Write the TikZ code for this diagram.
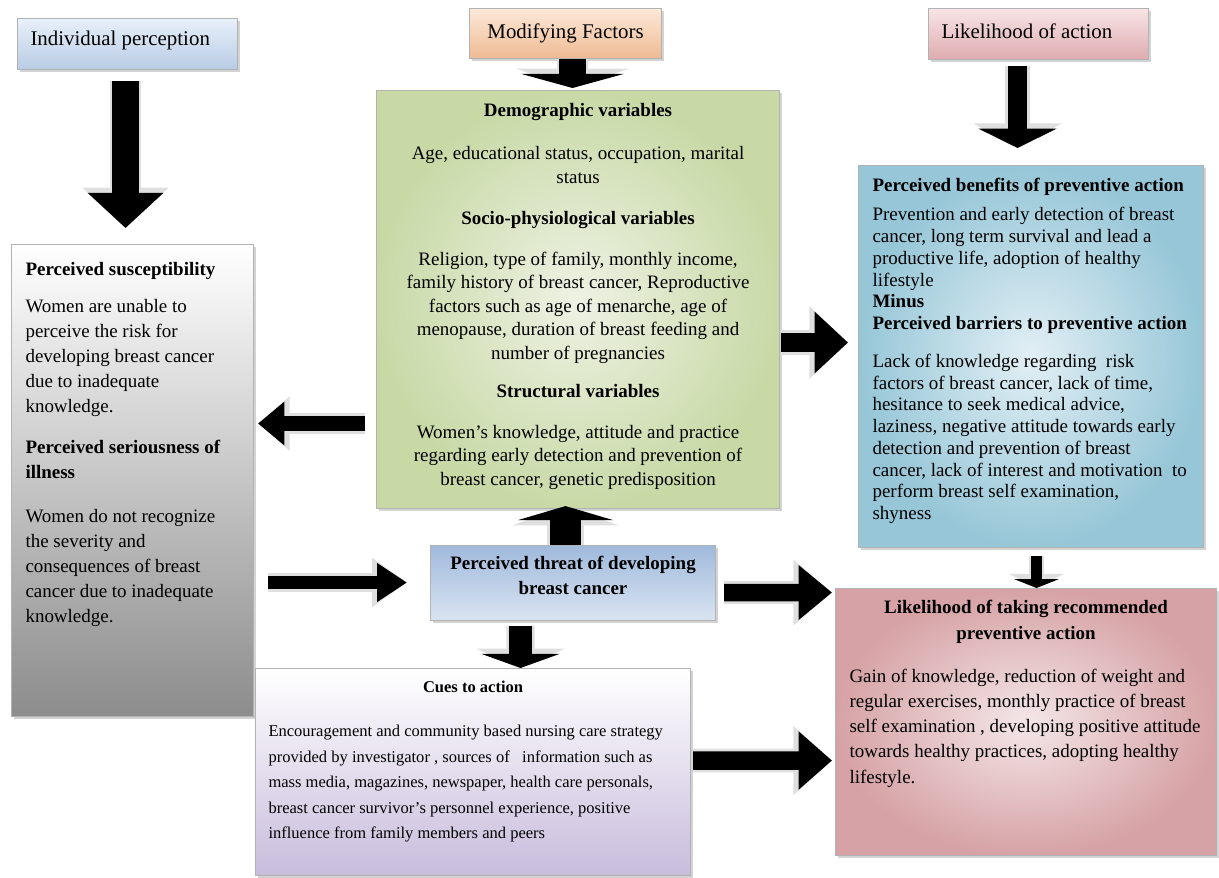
\documentclass[tikz,border=0pt]{standalone}
\usepackage{fontspec}
\setmainfont{Liberation Serif}
\usepackage{tikz}
\usetikzlibrary{arrows.meta,calc,shadows}
\definecolor{hbmIndivTop} {RGB}{232,240,250}
\definecolor{hbmIndivBot} {RGB}{184,204,228}
\definecolor{hbmModTop}   {RGB}{253,233,217}
\definecolor{hbmModBot}   {RGB}{238,186,146}
\definecolor{hbmActTop}   {RGB}{248,228,230}
\definecolor{hbmActBot}   {RGB}{222,172,176}
\definecolor{hbmGrayBot}  {RGB}{140,140,140}
\definecolor{hbmGreenIn}  {RGB}{238,242,228}
\definecolor{hbmGreenOut} {RGB}{200,217,166}
\definecolor{hbmBlueIn}   {RGB}{226,239,245}
\definecolor{hbmBlueOut}  {RGB}{150,198,215}
\definecolor{hbmThreatTop}{RGB}{160,186,220}
\definecolor{hbmThreatBot}{RGB}{218,228,242}
\definecolor{hbmLilacBot} {RGB}{200,188,220}
\definecolor{hbmPinkIn}   {RGB}{244,230,232}
\definecolor{hbmPinkOut}  {RGB}{214,162,165}

\newlength\pxu
\setlength\pxu{0.02cm}
\newcommand\inbox[3]{\parbox[c][#2\pxu][t]{#1\pxu}{#3}}
\newcommand\bodyfont[1]{\fontsize{10.8}{#1}\selectfont}

\tikzset{
  hbmbox/.style={draw=gray!60,line width=0.6pt,inner sep=0pt,anchor=north west,
    drop shadow={shadow xshift=1.5pt,shadow yshift=-1.5pt,opacity=0.35}},
  bigarr/.style n args={3}{draw=black,line width=#1,
    -{Triangle[width=#2,length=#3]},
    preaction={draw=gray!25,line width=#1+3pt,
      -{Triangle[width=#2+6pt,length=#3+3pt]}}}
}

\begin{document}
\begin{tikzpicture}[x=0.02cm,y=-0.02cm]
\useasboundingbox (0,0) rectangle (1219,877);
% Header boxes
\node[hbmbox,top color=hbmIndivTop,bottom color=hbmIndivBot,
  minimum width=220*\pxu,minimum height=51*\pxu] (indiv) at (17,18)
  {\parbox{194\pxu}{\fontsize{11.9}{13}\selectfont Individual perception\vspace{4pt}}};
\node[hbmbox,top color=hbmModTop,bottom color=hbmModBot,
  minimum width=192*\pxu,minimum height=50*\pxu] (modif) at (469,8)
  {\fontsize{11.9}{13}\selectfont Modifying Factors};
\node[hbmbox,top color=hbmActTop,bottom color=hbmActBot,
  minimum width=220*\pxu,minimum height=51*\pxu] (likeact) at (928,8)
  {\parbox{194\pxu}{\fontsize{11.9}{13}\selectfont Likelihood of action\vspace{3pt}}};

% Individual perceptions
\node[hbmbox,top color=white,bottom color=hbmGrayBot,
  minimum width=242*\pxu,minimum height=472*\pxu] (susc) at (11,244)
  {\inbox{214}{436}{\bodyfont{14.2}\raggedright
   \textbf{Perceived susceptibility}\par\vspace{7pt}
   Women are unable to\\perceive the risk for\\developing breast cancer\\
   due to inadequate\\knowledge.\par\vspace{9pt}
   \textbf{Perceived seriousness of}\\\textbf{illness}\par\vspace{11pt}
   Women do not recognize\\the severity and\\consequences of breast\\
   cancer due to inadequate\\knowledge.}};

% Modifying factors
\node[hbmbox,inner color=hbmGreenIn,outer color=hbmGreenOut,
  minimum width=403*\pxu,minimum height=418*\pxu] (demo) at (376,90)
  {\inbox{385}{392}{\bodyfont{13.4}\centering
   \textbf{Demographic variables}\par\vspace{11pt}
   Age, educational status, occupation, marital\\status\par\vspace{10pt}
   \textbf{Socio-physiological variables}\par\vspace{10pt}
   Religion, type of family, monthly income,\\
   family history of breast cancer, Reproductive\\
   factors such as age of menarche, age of\\
   menopause, duration of breast feeding and\\
   number of pregnancies\par\vspace{8pt}
   \textbf{Structural variables}\par\vspace{10pt}
   Women's knowledge, attitude and practice\\
   regarding early detection and prevention of\\
   breast cancer, genetic predisposition}};

% Benefits and barriers
\node[hbmbox,inner color=hbmBlueIn,outer color=hbmBlueOut,
  minimum width=345*\pxu,minimum height=382*\pxu] (benef) at (858,165)
  {\inbox{317}{356}{\bodyfont{12.4}\raggedright
   \textbf{Perceived benefits of preventive action}\par\vspace{4pt}
   Prevention and early detection of breast\\
   cancer, long term survival and lead a\\
   productive life, adoption of healthy\\
   lifestyle\\
   \textbf{Minus}\\
   \textbf{Perceived barriers to preventive action}\par\vspace{9pt}
   Lack of knowledge regarding\ \ risk\\
   factors of breast cancer, lack of time,\\
   hesitance to seek medical advice,\\
   laziness, negative attitude towards early\\
   detection and prevention of breast\\
   cancer, lack of interest and motivation\ \ to\\
   perform breast self examination,\\
   shyness}};

% Threat
\node[hbmbox,top color=hbmThreatTop,bottom color=hbmThreatBot,
  minimum width=285*\pxu,minimum height=75*\pxu] (threat) at (430,545)
  {\parbox{270\pxu}{\bodyfont{14.2}\centering\bfseries
   Perceived threat of developing\\breast cancer\par\vspace{9pt}}};

% Cues to action
\node[hbmbox,top color=white,bottom color=hbmLilacBot,
  minimum width=435*\pxu,minimum height=207*\pxu] (cues) at (255,668)
  {\inbox{409}{183}{\fontsize{9.4}{14.5}\selectfont
   {\centering\textbf{Cues to action}\par}\vspace{11pt}
   \raggedright
   Encouragement and community based nursing care strategy\\
   provided by investigator , sources of\ \ \ information such as\\
   mass media, magazines, newspaper, health care personals,\\
   breast cancer survivor's personnel experience, positive\\
   influence from family members and peers}};

% Likelihood of action
\node[hbmbox,inner color=hbmPinkIn,outer color=hbmPinkOut,
  minimum width=381*\pxu,minimum height=267*\pxu] (likely) at (835,588)
  {\inbox{353}{243}{\bodyfont{14.4}
   {\centering\textbf{Likelihood of taking recommended}\\
   \textbf{preventive action}\par}\vspace{10pt}
   \raggedright
   Gain of knowledge, reduction of weight and\\
   regular exercises, monthly practice of breast\\
   self examination , developing positive attitude\\
   towards healthy practices, adopting healthy\\
   lifestyle.}};

% Block arrows
\draw[bigarr={15pt}{42pt}{20pt}] ($(indiv.south)+(-2,11)$) -- ($(susc.north)+(-7,-16)$);
\draw[bigarr={15pt}{58pt}{8pt}] ($(modif.south)+(7,0)$) -- ($(demo.north)+(-5.5,-2)$);
\draw[bigarr={11pt}{44pt}{11pt}] ($(likeact.south)+(-21,6)$) -- ($(benef.north)+(-13.5,-17)$);
\draw[bigarr={9pt}{24pt}{15pt}] ($(demo.west)+(-11,124)$) -- ($(susc.east)+(4,-57)$);
\draw[bigarr={7.5pt}{21pt}{17pt}] ($(susc.east)+(14,102)$) -- ($(threat.west)+(-23,-0.5)$);
\draw[bigarr={11pt}{34pt}{19pt}] ($(demo.east)+(1,43)$) -- ($(benef.west)+(-10,-14)$);
\draw[bigarr={10pt}{30pt}{19pt}] ($(threat.east)+(8,9.5)$) -- ($(likely.west)+(-3,-129.5)$);
\draw[bigarr={10.5pt}{32pt}{19pt}] ($(cues.east)+(2,-11.5)$) -- ($(likely.west)+(-3,38.5)$);
\draw[bigarr={18pt}{54pt}{8pt}] ($(threat.north)+(-7.5,0)$) -- ($(demo.south)+(-12.5,-3)$);
\draw[bigarr={13pt}{44pt}{8pt}] ($(threat.south)+(-52.5,5)$) -- ($(cues.north)+(47.5,0)$);
\draw[bigarr={6pt}{25pt}{5pt}] ($(benef.south)+(5.5,8)$) -- ($(likely.north)+(10.5,0)$);
\end{tikzpicture}
\end{document}
